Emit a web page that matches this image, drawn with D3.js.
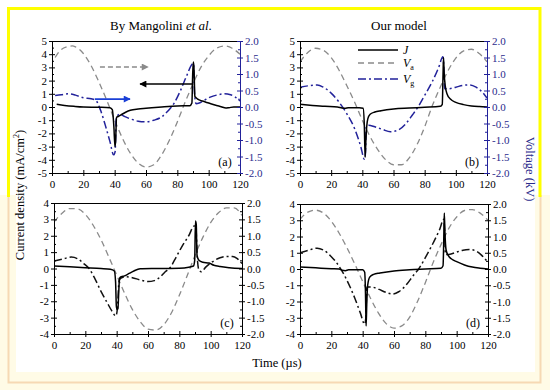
<!DOCTYPE html>
<html>
<head>
<meta charset="utf-8">
<script src="https://cdn.jsdelivr.net/npm/d3@7"></script>
<style>
body { margin: 0; background: #fff; }
text { font-family: "Liberation Serif", "DejaVu Serif", serif; }
</style>
</head>
<body>
<svg id="chart"></svg>
<script>
// time axis and value ticks
const timeTicks = [0, 20, 40, 60, 80, 100, 120];
const voltTicks = [-2, -1.5, -1, -0.5, 0, 0.5, 1, 1.5, 2];

// (a) By Mangolini et al.  [time us, value]
const aJ = [[3,0.2],[8,0.12],[14,0.05],[20,0],[30,-0.02],[37,-0.05],[38.5,-0.2],[39.5,-1.5],[40.2,-3.0],[40.6,-2.6],[41.2,-0.8],[42.5,-0.7],[44,-0.6],[47,-0.4],[50,-0.25],[55,-0.15],[60,-0.1],[70,0],[80,0.08],[88,0.1],[89.3,0.3],[89.8,2.5],[90.2,3.4],[90.6,3.0],[91.2,0.8],[92,0.7],[93,0.6],[96,0.45],[100,0.3],[104,0.15],[108,0.02],[111,-0.08],[113,-0.05],[116,0],[120,0]];
const aVa = [[2,1.5],[5,1.7],[10,1.83],[13,1.85],[15,1.82],[20,1.62],[25,1.25],[30,0.75],[35,0.2],[40,-0.4],[45,-0.95],[50,-1.4],[55,-1.7],[60,-1.82],[65,-1.75],[70,-1.45],[75,-1.0],[80,-0.45],[85,0.15],[90,0.7],[95,1.2],[100,1.55],[105,1.78],[110,1.85],[115,1.78],[120,1.6]];
const aVg = [[2,0.35],[6,0.37],[11,0.4],[15,0.36],[20,0.28],[25,0.25],[28,0.2],[31,-0.1],[34,-0.55],[37,-1.05],[39.3,-1.45],[40.3,-1.35],[41,-0.35],[43,-0.22],[46,-0.28],[50,-0.36],[55,-0.43],[60,-0.45],[65,-0.4],[70,-0.3],[74,-0.12],[78,0.12],[82,0.5],[86,0.95],[89.5,1.3],[90.3,1.32],[91,0.4],[92,0.1],[94,0.12],[97,0.2],[101,0.3],[105,0.36],[110,0.4],[114,0.37],[117,0.3],[120,0.18]];

// (b) Our model
const bJ = [[0,0.2],[8,0.12],[16,0.05],[24,0],[27,-0.08],[29,-0.1],[31,-0.05],[38,-0.05],[40.5,-0.1],[41.3,-1.5],[41.8,-3.8],[42.3,-2.5],[42.8,-1.5],[43.5,-0.9],[45,-0.55],[48,-0.38],[52,-0.28],[60,-0.15],[70,-0.08],[80,-0.02],[90,0.05],[91.3,0.2],[91.8,2.5],[92.1,3.75],[92.5,2.6],[93.2,1.6],[94.5,0.95],[96.5,0.6],[100,0.35],[105,0.18],[110,0.08],[115,0.03],[120,0]];
const bVa = [[0,1.37],[5,1.65],[10,1.78],[15,1.72],[20,1.5],[25,1.12],[30,0.65],[35,0.15],[40,-0.4],[45,-0.9],[50,-1.3],[55,-1.6],[60,-1.75],[65,-1.75],[70,-1.55],[75,-1.15],[80,-0.6],[85,0.05],[90,0.6],[95,1.1],[100,1.48],[105,1.7],[110,1.75],[115,1.62],[120,1.37]];
const bVg = [[0,0.6],[5,0.64],[11,0.67],[15,0.6],[20,0.42],[25,0.15],[30,-0.2],[35,-0.65],[39,-1.2],[41.3,-1.58],[42,-1.4],[42.5,-0.6],[44,-0.55],[48,-0.6],[53,-0.68],[58,-0.75],[63,-0.7],[68,-0.5],[72,-0.25],[76,0.02],[80,0.35],[85,0.78],[89,1.2],[91.7,1.52],[92.3,1.2],[92.8,0.55],[95,0.55],[100,0.6],[105,0.66],[109,0.67],[113,0.6],[117,0.45],[120,0.27]];

// (c)
const cJ = [[0,0.15],[10,0.1],[20,0.05],[30,0],[36,-0.05],[38.5,-0.15],[39.3,-0.8],[39.8,-2.3],[40.3,-2.5],[40.8,-2.45],[41.3,-1.5],[41.8,-0.6],[43,-0.5],[45,-0.45],[48,-0.3],[51,-0.15],[55,-0.02],[65,0],[80,0.02],[86,0.08],[89,0.15],[89.8,0.5],[90.3,2.9],[90.8,2.7],[91.3,0.8],[92.5,0.5],[95,0.38],[99,0.33],[102,0.2],[106,0.12],[112,0.05],[120,0]];
const cVa = [[0,1.42],[5,1.68],[10,1.83],[15,1.82],[20,1.65],[25,1.32],[30,0.88],[35,0.35],[40,-0.2],[45,-0.75],[50,-1.25],[55,-1.62],[60,-1.85],[65,-1.88],[70,-1.72],[75,-1.35],[80,-0.82],[85,-0.22],[90,0.4],[95,0.95],[100,1.4],[105,1.7],[110,1.85],[115,1.85],[120,1.62]];
const cVg = [[0,0.23],[5,0.28],[11,0.35],[15,0.3],[19,0.15],[22,0.02],[26,-0.3],[30,-0.7],[34,-1.05],[37,-1.3],[39.5,-1.45],[40.5,-1.2],[41.5,-0.4],[42.5,-0.3],[46,-0.25],[50,-0.28],[55,-0.35],[60,-0.4],[64,-0.37],[68,-0.25],[71,-0.1],[74,0.02],[78,0.35],[82,0.7],[86,1.0],[89.5,1.3],[90.5,1.28],[91.5,0.3],[92.5,-0.05],[94,-0.1],[97,0.05],[101,0.2],[106,0.33],[110,0.37],[114,0.37],[117,0.3],[120,0.15]];

// (d)
const dJ = [[0,0.12],[10,0.07],[20,0.02],[25,0],[27,-0.08],[29,-0.1],[31,-0.05],[40,-0.05],[41.3,-0.2],[41.8,-1.5],[42.2,-3.5],[42.6,-2.2],[43.2,-1.0],[44.5,-0.5],[47,-0.33],[51,-0.25],[60,-0.12],[70,-0.05],[80,0],[90,0.05],[91.3,0.2],[91.8,2.0],[92.1,3.45],[92.5,2.3],[93.2,1.2],[94.5,0.85],[97,0.6],[100,0.45],[105,0.25],[110,0.12],[115,0.05],[120,0]];
const dVa = [[0,1.53],[5,1.75],[10,1.81],[15,1.72],[20,1.47],[25,1.1],[30,0.65],[35,0.15],[40,-0.38],[45,-0.9],[50,-1.35],[55,-1.68],[60,-1.82],[65,-1.75],[70,-1.48],[75,-1.0],[80,-0.42],[85,0.2],[90,0.75],[95,1.25],[100,1.6],[105,1.8],[110,1.83],[115,1.72],[120,1.5]];
const dVg = [[0,0.5],[5,0.57],[11,0.64],[15,0.58],[20,0.38],[25,0.08],[30,-0.35],[35,-0.9],[38.5,-1.35],[41.3,-1.7],[42,-1.5],[42.7,-0.55],[45,-0.55],[50,-0.62],[55,-0.72],[59,-0.77],[63,-0.7],[68,-0.48],[72,-0.22],[76,0.02],[80,0.35],[85,0.8],[89,1.2],[91.8,1.53],[92.3,1.2],[92.8,0.45],[95,0.45],[100,0.52],[104,0.58],[108,0.6],[112,0.56],[116,0.42],[120,0.2]];

// arrows in (a): [t start, t end, J]
const arrowsA = [
  { from: 30.6, to: 61.3, j: 3.03, kind: "gray" },
  { from: 89.4, to: 56.2, j: 1.74, kind: "black" },
  { from: 27.4, to: 49.8, j: 0.6, kind: "blue" }
];

const width = 550, height = 390;
const navy = "#22229a", navyText = "#2b2b8c", grayLine = "#8a8a8a";
const serif = '"Liberation Serif", "DejaVu Serif", serif';

const svg = d3.select("#chart").attr("width", width).attr("height", height);

// frame: white top with yellow border, cream bottom with tan border
svg.append("rect").attr("x", 0).attr("y", 195).attr("width", width).attr("height", 195).attr("fill", "#fffbe6");
svg.append("rect").attr("x", 16).attr("y", 195).attr("width", 519).attr("height", 177).attr("fill", "#fff");
svg.append("path").attr("d", "M8.5,195V382.5H540.5V195").attr("fill", "none").attr("stroke", "#f6d9b4").attr("stroke-width", 2);
svg.append("path").attr("d", "M8.5,197V8.5H540V197").attr("fill", "none").attr("stroke", "#ffff00").attr("stroke-width", 3);

const defs = svg.append("defs");
[["gray", grayLine], ["black", "#000"], ["blue", "#1a3fd6"]].forEach(([k, c]) => {
  defs.append("marker").attr("id", "head-" + k)
    .attr("viewBox", "0 0 10 10").attr("refX", 9).attr("refY", 5)
    .attr("markerWidth", 8).attr("markerHeight", 7).attr("markerUnits", "userSpaceOnUse")
    .attr("orient", "auto")
    .append("path").attr("d", "M0,0L10,5L0,10Z").attr("fill", c);
});

const panels = [
  { id: "a", J: aJ, Va: aVa, Vg: aVg, x0: 52, x1: 240, y0: 41, y1: 173, jTicks: d3.range(-5, 6), blue: true },
  { id: "b", J: bJ, Va: bVa, Vg: bVg, x0: 300, x1: 487, y0: 41, y1: 173, jTicks: d3.range(-5, 6), blue: true },
  { id: "c", J: cJ, Va: cVa, Vg: cVg, x0: 54, x1: 242, y0: 203, y1: 334, jTicks: d3.range(-4, 5), blue: false },
  { id: "d", J: dJ, Va: dVa, Vg: dVg, x0: 300, x1: 488, y0: 204, y1: 334, jTicks: d3.range(-4, 5), blue: false }
];

const half = arr => d3.range(arr.length - 1).map(i => (arr[i] + arr[i + 1]) / 2);

panels.forEach(p => {
  const x = d3.scaleLinear().domain([0, 120]).range([p.x0, p.x1]);
  const jExt = d3.extent(p.jTicks);
  const yJ = d3.scaleLinear().domain(jExt).range([p.y1, p.y0]);
  const yV = d3.scaleLinear().domain([-2, 2]).range([p.y1, p.y0]);
  const rightCol = p.blue ? navy : "#000";
  const rightTxt = p.blue ? navyText : "#000";

  const g = svg.append("g");
  defs.append("clipPath").attr("id", "clip-" + p.id)
    .append("rect").attr("x", p.x0).attr("y", p.y0 - 2).attr("width", p.x1 - p.x0).attr("height", p.y1 - p.y0 + 4);

  const plot = g.append("g").attr("clip-path", `url(#clip-${p.id})`);
  const lineJ = d3.line().x(d => x(d[0])).y(d => yJ(d[1])).curve(d3.curveMonotoneX);
  const lineV = d3.line().x(d => x(d[0])).y(d => yV(d[1])).curve(d3.curveMonotoneX);

  plot.append("path").datum(p.Va).attr("d", lineV).attr("fill", "none")
    .attr("stroke", grayLine).attr("stroke-width", 1.3).attr("stroke-dasharray", "6,4");
  plot.append("path").datum(p.Vg).attr("d", lineV).attr("fill", "none")
    .attr("stroke", p.blue ? navy : "#111").attr("stroke-width", 1.5).attr("stroke-dasharray", "8,3,2,3");
  plot.append("path").datum(p.J).attr("d", lineJ).attr("fill", "none")
    .attr("stroke", "#000").attr("stroke-width", 1.5);

  // top border
  g.append("line").attr("x1", p.x0).attr("x2", p.x1).attr("y1", p.y0 + 0.5).attr("y2", p.y0 + 0.5)
    .attr("stroke", "#000").attr("stroke-width", 1);

  // bottom axis
  g.append("g").attr("transform", `translate(0,${p.y1})`)
    .call(d3.axisBottom(x).tickValues(timeTicks).tickSize(3).tickPadding(4).tickFormat(d => d));
  g.append("g").attr("transform", `translate(0,${p.y1})`)
    .call(d3.axisTop(x).tickValues(timeTicks).tickSize(3).tickFormat(""));
  g.append("g").attr("transform", `translate(0,${p.y1})`)
    .call(d3.axisTop(x).tickValues(half(timeTicks)).tickSize(2).tickFormat(""));

  // left axis
  g.append("g").attr("transform", `translate(${p.x0},0)`)
    .call(d3.axisLeft(yJ).tickValues(p.jTicks).tickSize(3).tickPadding(2).tickFormat(d => String(d)));
  g.append("g").attr("transform", `translate(${p.x0},0)`)
    .call(d3.axisRight(yJ).tickValues(p.jTicks).tickSize(3).tickFormat(""));
  g.append("g").attr("transform", `translate(${p.x0},0)`)
    .call(d3.axisRight(yJ).tickValues(half(p.jTicks)).tickSize(2).tickFormat(""));

  // right axis
  const ra = g.append("g").attr("transform", `translate(${p.x1},0)`)
    .call(d3.axisRight(yV).tickValues(voltTicks).tickSize(3).tickPadding(2).tickFormat(d => d.toFixed(1)));
  const ra2 = g.append("g").attr("transform", `translate(${p.x1},0)`)
    .call(d3.axisLeft(yV).tickValues(voltTicks).tickSize(3).tickFormat(""));
  const ra3 = g.append("g").attr("transform", `translate(${p.x1},0)`)
    .call(d3.axisLeft(yV).tickValues(half(voltTicks)).tickSize(2).tickFormat(""));

  g.selectAll(".domain").attr("stroke", "#000");
  g.selectAll(".tick line").attr("stroke", "#000");
  g.selectAll(".tick text").attr("font-size", 11).style("font-family", serif).attr("fill", "#000");
  [ra, ra2, ra3].forEach(a => {
    a.select(".domain").attr("stroke", rightCol);
    a.selectAll(".tick line").attr("stroke", rightCol);
  });
  ra.selectAll(".tick text").attr("fill", rightTxt);

  g.append("text").attr("x", p.x1 - 15).attr("y", p.y1 - 7).attr("text-anchor", "middle")
    .attr("font-size", 12).text(`(${p.id})`);

  p.x = x; p.yJ = yJ;
});

// arrows in panel (a)
const pa = panels[0];
const arrowStyle = { gray: [grayLine, "5,3"], black: ["#000", null], blue: ["#1a3fd6", null] };
arrowsA.forEach(a => {
  const [col, dash] = arrowStyle[a.kind];
  svg.append("line")
    .attr("x1", pa.x(a.from)).attr("x2", pa.x(a.to))
    .attr("y1", pa.yJ(a.j)).attr("y2", pa.yJ(a.j))
    .attr("stroke", col).attr("stroke-width", 1.6)
    .attr("stroke-dasharray", dash)
    .attr("marker-end", `url(#head-${a.kind})`);
});

// legend in (b)
const legend = [
  { name: "J", sub: "", color: "#000", dash: null, y: 50 },
  { name: "V", sub: "a", color: grayLine, dash: "6,4", y: 63 },
  { name: "V", sub: "g", color: navy, dash: "8,3,2,3", y: 79 }
];
const lg = svg.append("g");
legend.forEach(l => {
  lg.append("line").attr("x1", 358).attr("x2", 398).attr("y1", l.y).attr("y2", l.y)
    .attr("stroke", l.color).attr("stroke-width", 1.5).attr("stroke-dasharray", l.dash);
  const t = lg.append("text").attr("x", 403).attr("y", l.y + 4).attr("font-size", 12);
  t.append("tspan").attr("font-style", "italic").text(l.name);
  if (l.sub) t.append("tspan").attr("font-size", 8).attr("dy", 3).text(l.sub);
});

// titles
const t1 = svg.append("text").attr("x", 161).attr("y", 30).attr("text-anchor", "middle").attr("font-size", 13);
t1.append("tspan").text("By Mangolini ");
t1.append("tspan").attr("font-style", "italic").text("et al.");
svg.append("text").attr("x", 399).attr("y", 30).attr("text-anchor", "middle").attr("font-size", 13).text("Our model");

// axis titles
const yl = svg.append("text").attr("transform", "translate(24,195) rotate(-90)")
  .attr("text-anchor", "middle").attr("font-size", 12.5);
yl.append("tspan").text("Current density (mA/cm");
yl.append("tspan").attr("font-size", 8).attr("dy", -5).text("2");
yl.append("tspan").attr("dy", 5).text(")");

svg.append("text").attr("transform", "translate(526,169) rotate(90)")
  .attr("text-anchor", "middle").attr("font-size", 12.5).attr("fill", navyText).text("Voltage (kV)");

svg.append("text").attr("x", 277).attr("y", 367).attr("text-anchor", "middle")
  .attr("font-size", 12.5).text("Time (\u00b5s)");
</script>
</body>
</html>
